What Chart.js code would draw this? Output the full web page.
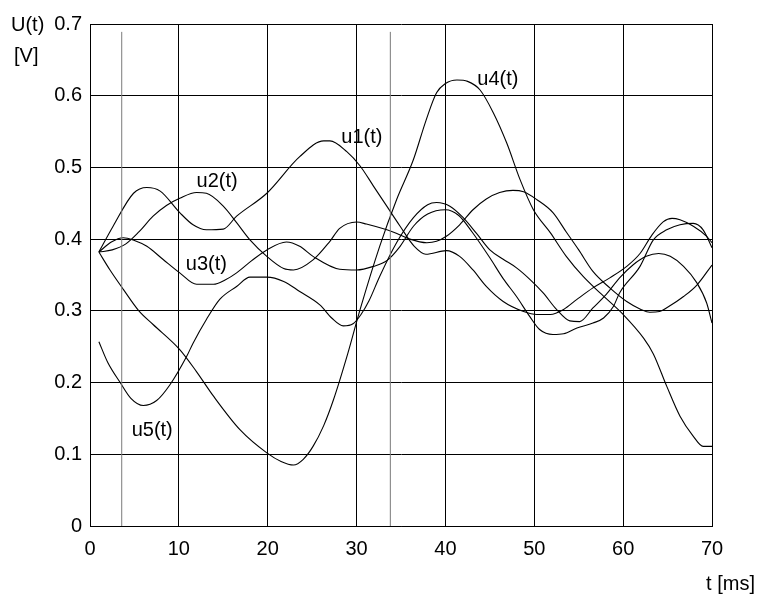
<!DOCTYPE html>
<html>
<head>
<meta charset="utf-8">
<script src="https://cdn.jsdelivr.net/npm/chart.js@4/dist/chart.umd.min.js"></script>
<style>
  html, body { margin: 0; padding: 0; background: #fff; }
  #wrap { width: 757px; height: 595px; }
</style>
</head>
<body>
<div id="wrap"><canvas id="c" width="757" height="595"></canvas></div>
<script>
// ---- data (t in ms, U in V) ----
const u1 = [[1,0.382],[2.6,0.418],[4.9,0.464],[6.4,0.472],[7.9,0.467],[10.1,0.437],[11.6,0.42],[13.1,0.413],[15,0.414],[16.5,0.432],[19.9,0.464],[23.6,0.515],[26.3,0.537],[27,0.537],[28.9,0.522],[30.4,0.502],[31.9,0.474],[33.4,0.446],[34.9,0.418],[36.5,0.39],[37.8,0.379],[40.1,0.384],[41.6,0.376],[43.1,0.357],[44.6,0.334],[46.5,0.313],[48.8,0.299],[50.3,0.295],[51.8,0.295],[53.3,0.302],[54.8,0.316],[56.6,0.332],[58.5,0.346],[60.4,0.362],[61.9,0.38],[63.2,0.405],[64.5,0.424],[65.5,0.429],[66.4,0.427],[67.9,0.418],[69.4,0.404],[70,0.395]];
const u2 = [[1,0.382],[2.5,0.385],[4,0.393],[5.5,0.41],[7.1,0.432],[8.6,0.447],[10.1,0.457],[12,0.465],[13.1,0.464],[15,0.446],[16.5,0.423],[18,0.399],[19.9,0.376],[21.8,0.359],[22.9,0.357],[25.1,0.371],[27,0.397],[28.1,0.415],[30,0.424],[31.1,0.421],[34.1,0.41],[36,0.4],[37.9,0.395],[39,0.397],[40.1,0.404],[41.6,0.42],[43.1,0.441],[44.6,0.456],[46.1,0.465],[47.6,0.468],[48.8,0.466],[50.3,0.455],[52.1,0.437],[53.6,0.41],[55,0.385],[56.6,0.355],[58.5,0.332],[60.4,0.313],[62,0.302],[63,0.298],[64.1,0.299],[65,0.305],[66.8,0.32],[68.3,0.336],[70,0.364]];
const u3 = [[1,0.382],[2.4,0.396],[3.75,0.402],[5,0.398],[6.4,0.39],[8.2,0.372],[10.1,0.353],[12,0.337],[13.9,0.337],[15.2,0.343],[16.5,0.353],[18.2,0.37],[19.9,0.385],[22.1,0.396],[23.6,0.39],[25.1,0.376],[28.1,0.358],[30,0.357],[31.9,0.362],[33.4,0.37],[34.9,0.39],[36.4,0.418],[38,0.435],[40,0.441],[41.5,0.433],[43,0.41],[45,0.374],[46.5,0.345],[48,0.32],[49.5,0.292],[50.6,0.274],[52.1,0.267],[53.3,0.268],[54.8,0.276],[56.6,0.283],[57.8,0.29],[58.9,0.306],[59.6,0.325],[61.9,0.362],[63.4,0.399],[64.9,0.413],[66.4,0.42],[67.9,0.422],[69,0.413],[70,0.388]];
const u4 = [[1,0.382],[2.25,0.357],[3.75,0.33],[5.5,0.3],[7.1,0.281],[10.1,0.246],[12,0.215],[13.9,0.181],[16.9,0.134],[19.9,0.102],[21.5,0.09],[22.9,0.085],[24,0.093],[25.1,0.111],[26.3,0.14],[27.4,0.176],[29,0.24],[30.4,0.302],[32.6,0.39],[34.5,0.455],[36.4,0.511],[37.8,0.565],[39,0.604],[40,0.617],[41.3,0.622],[42.5,0.62],[43.9,0.608],[45.4,0.576],[46.9,0.534],[48.4,0.483],[49.9,0.441],[51.8,0.409],[53.6,0.376],[55.5,0.348],[57.4,0.325],[60,0.295],[62.3,0.262],[63.4,0.24],[64.9,0.195],[66.4,0.153],[67.9,0.125],[69,0.111],[70,0.111]];
const u5 = [[1,0.257],[2,0.228],[3.4,0.2],[4.6,0.178],[6,0.168],[7.5,0.175],[9,0.197],[10.9,0.237],[11.6,0.255],[13.1,0.288],[14.6,0.316],[16.5,0.334],[18,0.347],[19.9,0.347],[21.8,0.341],[23.6,0.327],[25.9,0.308],[27.2,0.29],[28.5,0.279],[29.6,0.282],[30.5,0.295],[31.4,0.314],[32.6,0.348],[34.5,0.395],[36.4,0.43],[38,0.448],[39,0.451],[40.5,0.446],[42,0.43],[43.5,0.408],[45,0.385],[46.5,0.372],[48,0.36],[49.5,0.344],[51,0.325],[52.5,0.302],[54,0.286],[55.1,0.285],[56.6,0.304],[58.1,0.323],[59.6,0.346],[61.1,0.364],[62.6,0.376],[64,0.38],[65.3,0.376],[66.8,0.362],[68.3,0.339],[69.4,0.311],[70,0.283]];
const seriesNames = ['u1(t)','u2(t)','u3(t)','u4(t)','u5(t)'];
const labelT = [30.6, 14.3, 13.1, 45.9, 7.0];
const labelU = [0.542, 0.480, 0.364, 0.622, 0.133];
const cursorTimes = [3.57, 33.8];
const cursorRange = [0, 0.689];
const xTicks = [0, 10, 20, 30, 40, 50, 60, 70];
const yTicks = [0, 0.1, 0.2, 0.3, 0.4, 0.5, 0.6, 0.7];

// ---- chart ----
const FONT = "'Liberation Sans', Arial, sans-serif";
const toPts = arr => arr.map(p => ({x: p[0], y: p[1]}));
const curves = [u1, u2, u3, u4, u5].map((d, i) => ({
  label: seriesNames[i],
  data: toPts(d),
  borderColor: '#000',
  borderWidth: 1.1,
  pointRadius: 0,
  fill: false,
  showLine: true,
  cubicInterpolationMode: 'monotone'
}));
const cursors = cursorTimes.map(t => ({
  label: 'cursor',
  data: cursorRange.map(v => ({x: t, y: v})),
  borderColor: '#7a7a7a',
  borderWidth: 1,
  pointRadius: 0,
  showLine: true,
  fill: false
}));

const textPlugin = {
  id: 'texts',
  afterDatasetsDraw(chart) {
    const ctx = chart.ctx;
    const xs = chart.scales.x, ys = chart.scales.y;
    ctx.save();
    ctx.fillStyle = '#000';
    ctx.font = '20px ' + FONT;
    ctx.textAlign = 'center';
    ctx.textBaseline = 'middle';
    seriesNames.forEach((s, i) => {
      ctx.fillText(s, xs.getPixelForValue(labelT[i]), ys.getPixelForValue(labelU[i]));
    });
    ctx.textAlign = 'left';
    ctx.textBaseline = 'alphabetic';
    ctx.fillText('U(t)', 11, 31);
    ctx.fillText('[V]', 14, 62);
    ctx.textAlign = 'right';
    ctx.fillText('t [ms]', 755, 590);
    ctx.restore();
  }
};

new Chart(document.getElementById('c'), {
  type: 'scatter',
  data: { datasets: [...cursors, ...curves] },
  options: {
    responsive: false,
    animation: false,
    devicePixelRatio: 1,
    layout: { padding: { left: 0, right: 45, top: 24, bottom: 0 } },
    plugins: { legend: { display: false }, tooltip: { enabled: false } },
    scales: {
      x: {
        type: 'linear', min: 0, max: 70,
        afterBuildTicks: s => { s.ticks = xTicks.map(v => ({value: v})); },
        afterFit: s => { s.height = 69; },
        grid: { color: '#000', lineWidth: 1, drawTicks: false },
        border: { color: '#000', width: 1 },
        ticks: { color: '#000', font: { family: FONT, size: 20 }, padding: 11, maxRotation: 0,
                 callback: v => String(v) }
      },
      y: {
        type: 'linear', min: 0, max: 0.7,
        afterBuildTicks: s => { s.ticks = yTicks.map(v => ({value: v})); },
        afterFit: s => { s.width = 90; },
        grid: { color: '#000', lineWidth: 1, drawTicks: false },
        border: { color: '#000', width: 1 },
        ticks: { color: '#000', font: { family: FONT, size: 20 }, padding: 8,
                 callback: v => String(+Number(v).toFixed(1)) }
      }
    }
  },
  plugins: [textPlugin]
});
</script>
</body>
</html>
